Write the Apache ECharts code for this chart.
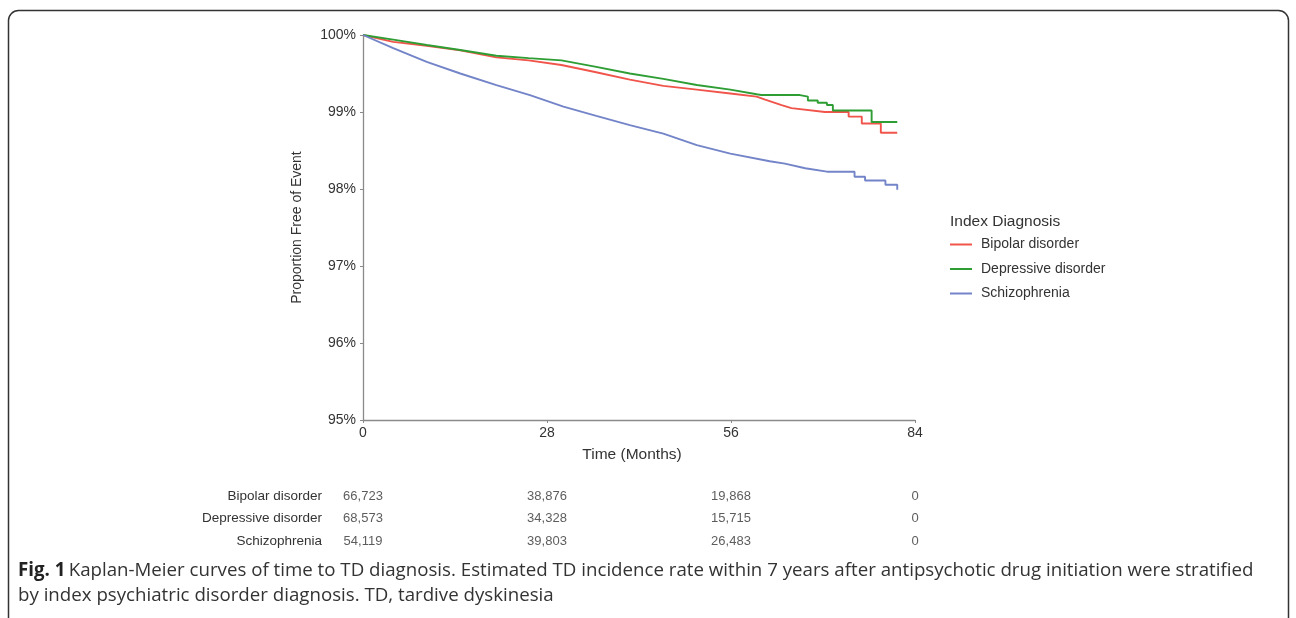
<!DOCTYPE html>
<html>
<head>
<meta charset="utf-8">
<script src="https://cdn.jsdelivr.net/npm/echarts@6/dist/echarts.min.js"></script>
<style>
html,body{margin:0;padding:0;background:#fff;}
#chart{width:1296px;height:618px;}
</style>
</head>
<body>
<div id="chart"></div>
<script>
// ---- data ----
const seriesNames = ['Bipolar disorder', 'Depressive disorder', 'Schizophrenia'];
const xTicks = [0, 28, 56, 84];
// [month, proportion free of event (%)]
const bipolarCurve = [[0,100],[4.6,99.91],[9.7,99.86],[14.8,99.80],[20.3,99.71],[25.2,99.67],[30.2,99.61],[35.3,99.52],[40.6,99.42],[45.7,99.34],[50.8,99.29],[55.9,99.24],[59.9,99.20],[61.2,99.16],[63.7,99.09],[65.2,99.05],[70.3,99.00],[73.9,99.00],[73.9,98.94],[75.9,98.94],[75.9,98.85],[78.8,98.85],[78.8,98.73],[81.3,98.73]];
const depressiveCurve = [[0,100],[4.6,99.94],[9.7,99.87],[14.8,99.805],[20.3,99.73],[25.2,99.70],[30.2,99.67],[35.3,99.59],[40.6,99.50],[45.7,99.43],[50.8,99.35],[55.9,99.29],[59.9,99.23],[60.6,99.22],[66.5,99.22],[66.5,99.20],[67.7,99.20],[67.7,99.15],[69.2,99.15],[69.2,99.12],[70.6,99.12],[70.6,99.09],[71.5,99.09],[71.5,99.02],[77.4,99.02],[77.4,98.87],[81.3,98.87]];
const schizophreniaCurve = [[0,100],[4.6,99.83],[9.7,99.65],[14.8,99.50],[20.3,99.35],[25.4,99.22],[30.5,99.07],[35.5,98.95],[40.6,98.83],[45.7,98.72],[50.8,98.57],[55.9,98.46],[61.9,98.36],[64.2,98.33],[67.3,98.27],[70.6,98.225],[74.8,98.225],[74.8,98.16],[76.4,98.16],[76.4,98.11],[79.5,98.11],[79.5,98.055],[81.3,98.055],[81.3,97.99]];
// numbers at risk at months 0, 28, 56, 84
const bipolarAtRisk = [66723, 38876, 19868, 0];
const depressiveAtRisk = [68573, 34328, 15715, 0];
const schizophreniaAtRisk = [54119, 39803, 26483, 0];

const colors = ['#F0544A', '#2E9E34', '#7384C8'];
const curves = [bipolarCurve, depressiveCurve, schizophreniaCurve];
const atRisk = [bipolarAtRisk, depressiveAtRisk, schizophreniaAtRisk];

const riskData = [];
atRisk.forEach((arr, i) => {
  arr.forEach((v, j) => riskData.push([xTicks[j], seriesNames[i], v]));
});

const fmt = n => n.toLocaleString('en-US');
const FONT = 'Liberation Sans';

const chart = echarts.init(document.getElementById('chart'), null, {renderer: 'canvas'});
const option = {
  backgroundColor: '#fff',
  animation: false,
  textStyle: {fontFamily: FONT},
  grid: [
    {left: 363, right: 381, top: 35, bottom: 198},
    {left: 363, right: 381, top: 485, height: 67.5}
  ],
  xAxis: [
    {
      type: 'value', gridIndex: 0, min: 0, max: 84, interval: 28,
      name: 'Time (Months)', nameLocation: 'middle', nameGap: 27,
      nameTextStyle: {fontSize: 15.5, color: '#333', fontFamily: FONT, padding: [0, 14, 0, 0]},
      axisLine: {lineStyle: {color: '#8a8a8a', width: 1.3}},
      axisTick: {show: true, length: 3, lineStyle: {color: '#8a8a8a'}},
      axisLabel: {fontSize: 14, color: '#333', margin: 6, fontFamily: FONT},
      splitLine: {show: false}
    },
    {
      type: 'value', gridIndex: 1, min: 0, max: 84, interval: 28, show: false
    }
  ],
  yAxis: [
    {
      type: 'value', gridIndex: 0, min: 95, max: 100, interval: 1,
      name: 'Proportion Free of Event', nameLocation: 'middle', nameGap: 59,
      nameTextStyle: {fontSize: 14, color: '#333', fontFamily: FONT},
      axisLine: {show: true, lineStyle: {color: '#8a8a8a', width: 1.3}},
      axisTick: {show: true, length: 3, lineStyle: {color: '#8a8a8a'}},
      axisLabel: {fontSize: 14, color: '#333', margin: 7, fontFamily: FONT, formatter: '{value}%'},
      splitLine: {show: false}
    },
    {
      type: 'category', gridIndex: 1, inverse: true, data: seriesNames,
      axisLine: {show: false}, axisTick: {show: false},
      axisLabel: {fontSize: 13.5, color: '#333', margin: 41, fontFamily: FONT}
    }
  ],
  legend: {
    orient: 'vertical', left: 950, top: 236.5, padding: 0,
    data: seriesNames,
    icon: 'rect', itemWidth: 22, itemHeight: 2, itemGap: 8.5,
    textStyle: {fontSize: 14, color: '#333', lineHeight: 16, padding: [0, 0, 0, 4], fontFamily: FONT}
  },
  series: curves.map((c, i) => ({
    name: seriesNames[i], type: 'line', xAxisIndex: 0, yAxisIndex: 0,
    data: c, showSymbol: false, symbol: 'none',
    lineStyle: {color: colors[i], width: 1.9},
    itemStyle: {color: colors[i]}
  })).concat([{
    type: 'scatter', xAxisIndex: 1, yAxisIndex: 1, data: riskData,
    symbolSize: 0, silent: true,
    label: {show: true, position: 'inside', fontSize: 13, color: '#333', fontFamily: FONT,
      formatter: p => fmt(p.value[2])}
  }]),
  graphic: [
    {type: 'rect', shape: {x: 8.5, y: 10.5, width: 1280, height: 700, r: 10},
     style: {fill: 'none', stroke: '#333', lineWidth: 1.5}, silent: true},
    {type: 'text', left: 950, top: 214,
     style: {text: 'Index Diagnosis', font: '15.5px "Liberation Sans"', fill: '#333'}},
    {type: 'text', left: 18, top: 561,
     style: {
       rich: {
         b: {fontFamily: 'Open Sans', fontWeight: 'bold', fontSize: 18.7, fill: '#222'},
         n: {fontFamily: 'Open Sans', fontSize: 18.7, fill: '#333'}
       },
       text: '{b|Fig. 1} {n|Kaplan-Meier curves of time to TD diagnosis. Estimated TD incidence rate within 7 years after antipsychotic drug initiation were stratified}',
       fill: '#333'
     }},
    {type: 'text', left: 18, top: 586,
     style: {text: 'by index psychiatric disorder diagnosis. TD, tardive dyskinesia',
       font: '18.7px "Open Sans"', fill: '#333'}}
  ]
};
chart.setOption(option);
</script>
</body>
</html>
